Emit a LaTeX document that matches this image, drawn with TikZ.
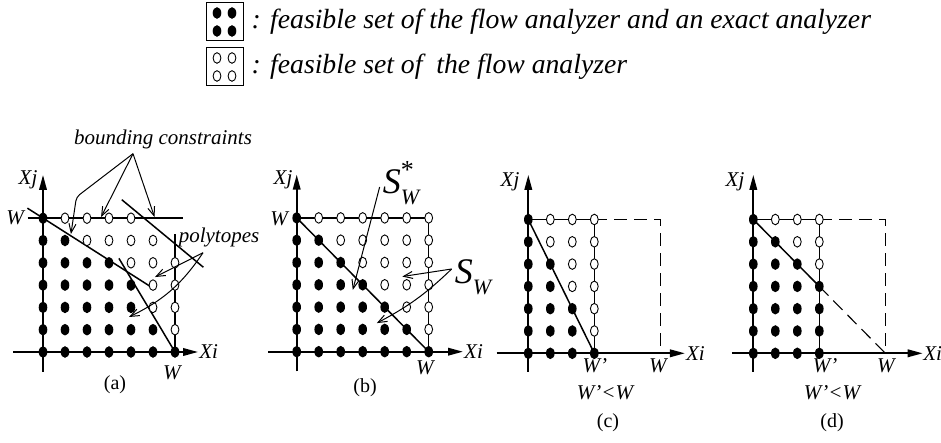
\documentclass[tikz,border=0pt]{standalone}
\usepackage{fontspec}
\setmainfont{Liberation Serif}
\usetikzlibrary{arrows.meta,positioning}

\begin{document}
\begin{tikzpicture}[x=1pt,y=1pt,
fdot/.style={fill=black},
odot/.style={draw=black,fill=white,line width=0.9pt},
axis/.style={-{Triangle[length=15pt,width=7.5pt]},line width=1.9pt},
bound/.style={line width=1.5pt},
hull/.style={line width=1.5pt},
gap/.style={line width=1.1pt,dash pattern=on 13pt off 7pt},
pointer/.style={-{Straight Barb[length=9pt,width=7pt]},line width=1pt},
tag/.style={font=\fontsize{21}{24}\selectfont\itshape,inner sep=1pt},
caption/.style={font=\fontsize{20}{23}\selectfont,inner sep=1pt},
setname/.style={font=\fontsize{36}{40}\selectfont\itshape,inner sep=1pt},
keybox/.style={draw,line width=1pt,minimum width=37pt,minimum height=38pt,inner sep=0pt},
keytext/.style={font=\fontsize{27.7}{32}\selectfont\itshape,inner sep=0pt}]
\useasboundingbox (0,0) rectangle (941,443);
% legend
\node[keybox] (keyboth) at (224.5,421) {};
\node[keytext,right=8pt of keyboth] (keybothtext) {: feasible set of the flow analyzer and an exact analyzer};
\node[keybox] (keyflow) at (224.5,376) {};
\node[keytext,right=8pt of keyflow] (keyflowtext) {: feasible set of\ \ the flow analyzer};
\foreach \dx in {-7.5,7.5} \foreach \dy in {-9,9} {
  \path[fdot] ([shift={(\dx,\dy)}]keyboth.center) ellipse (4.3pt and 5.8pt);
  \path[odot] ([shift={(\dx,\dy)}]keyflow.center) ellipse (3.9pt and 5.3pt);}
% (a)
\begin{scope}[shift={(43,91)},x=22pt,y=22.3pt]
\draw[axis] (-1.36,0) -- (7.05,0);
\draw[axis] (0,-0.88) -- (0,7.94);
\node[tag,right] (xia) at (7.05,0) {Xi};
\node[tag] (xja) at (-0.68,7.71) {Xj};
\node[tag] (wla) at (-1.27,6.02) {W};
\node[tag] (wba) at (5.86,-0.94) {W};
\draw[bound] (-0.7,6) -- (6.38,6);
\draw[bound] (6,5.27) -- (6,0);
\draw[bound] (3.58,6.83) -- (7.29,3.8);
\draw[hull] (-0.71,6.45) -- (4.86,2.95);
\draw[hull] (3.45,4.2) -- (6,0);
\foreach \j/\n in {6/0,5/1,4/3,3/4,2/4,1/5,0/6}
  \foreach \i in {0,...,\n} \path[fdot] (\i,\j) ellipse (4.3pt and 5.8pt);
\foreach \j/\a/\b in {6/1/4,5/2/5,4/4/6,3/5/6,2/5/6,1/6/6}
  \foreach \i in {\a,...,\b} \path[odot] (\i,\j) ellipse (3.9pt and 5.3pt);
\coordinate (bendA) at (1.52,6.95);
\coordinate (tipA1) at (1.27,5.29);
\coordinate (tipA2) at (2.64,6.05);
\coordinate (tipA3) at (5.07,6.05);
\coordinate (tipP1) at (5.09,3.36);
\coordinate (tipP2) at (3.91,1.57);
\end{scope}
\node[tag] (bounding) at (163,304) {bounding constraints};
\node[tag] (polytopes) at (219,206) {polytopes};
\draw[pointer,rounded corners=4pt] ([xshift=-30pt,yshift=-4pt]bounding.south) -- (bendA) -- (tipA1);
\draw[pointer] ([xshift=-30pt,yshift=-4pt]bounding.south) -- (tipA2);
\draw[pointer] ([xshift=-30pt,yshift=-4pt]bounding.south) -- (tipA3);
\draw[pointer] ([xshift=-16pt,yshift=-5pt]polytopes.south) -- (tipP1);
\draw[pointer] ([xshift=-16pt,yshift=-5pt]polytopes.south) to[bend left=15] (tipP2);
\node[caption] (capa) at (115,58) {(a)};
% (b)
\begin{scope}[shift={(296.7,91.3)},x=22pt,y=22.3pt]
\draw[axis] (-1.3,0) -- (7.56,0);
\draw[axis] (0,-0.88) -- (0,7.94);
\node[tag,right] (xib) at (7.56,0) {Xi};
\node[tag] (xjb) at (-0.62,7.7) {Xj};
\node[tag] (wlb) at (-0.8,5.95) {W};
\node[tag] (wbb) at (5.83,-0.73) {W};
\draw[bound] (0,6) -- (6,6) -- (6,0);
\draw[hull] (0,6) -- (6,0);
\foreach \i in {0,...,6} \foreach \j in {0,...,6} {
  \ifnum\numexpr\i+\j\relax>6 \path[odot] (\i,\j) ellipse (3.9pt and 5.3pt);
  \else \path[fdot] (\i,\j) ellipse (4.3pt and 5.8pt); \fi}
\coordinate (tipS1) at (2.55,2.77);
\coordinate (tipS2) at (4.8,3.37);
\coordinate (tipS3) at (3.64,1.28);
\end{scope}
\node[setname] (sstar) at (401,260) {S\rlap{\raisebox{0.42em}{\fontsize{26}{26}\selectfont\upshape *}}\raisebox{-0.3em}{\fontsize{22}{24}\selectfont W}};
\node[setname] (sflow) at (473,166) {S\raisebox{-0.3em}{\fontsize{22}{24}\selectfont W}};
\draw[pointer] ([shift={(-2pt,-4pt)}]sstar.west) -- (tipS1);
\draw[pointer] ([shift={(-2pt,8pt)}]sflow.west) -- (tipS2);
\draw[pointer] ([shift={(-2pt,8pt)}]sflow.west) to[bend left=8] (tipS3);
\node[caption] (capb) at (365,55) {(b)};
% (c)
\begin{scope}[shift={(528.3,89.7)},x=22pt,y=22.3pt]
\draw[axis] (-1.44,0) -- (7.12,0);
\draw[axis] (0,-0.83) -- (0,8);
\node[tag,right] (xic) at (7.12,0) {Xi};
\node[tag] (xjc) at (-0.83,7.68) {Xj};
\node[tag] (wpc) at (3.03,-0.55) {W'};
\node[tag] (wbc) at (5.89,-0.55) {W};
\draw[gap] (3,6) -- (6,6) -- (6,0);
\draw[bound] (0,6) -- (3,6) -- (3,0);
\draw[hull] (0,6) -- (3,0);
\foreach \i in {0,...,3} \foreach \j in {0,...,6} {
  \ifnum\numexpr2*\i+\j\relax>6 \path[odot] (\i,\j) ellipse (3.9pt and 5.3pt);
  \else \path[fdot] (\i,\j) ellipse (4.3pt and 5.8pt); \fi}
\end{scope}
\node[tag] (lessc) at (605,50) {W'<W};
\node[caption] (capc) at (608,20) {(c)};
% (d)
\begin{scope}[shift={(753.3,89.7)},x=22pt,y=22.3pt]
\draw[axis] (-0.98,0) -- (7.7,0);
\draw[axis] (0,-0.83) -- (0,8);
\node[tag,right,inner sep=0pt] (xid) at (7.72,0) {Xi};
\node[tag] (xjd) at (-0.83,7.7) {Xj};
\node[tag] (wpd) at (3.26,-0.55) {W'};
\node[tag] (wbd) at (6.02,-0.55) {W};
\draw[gap] (3,6) -- (6,6) -- (6,0);
\draw[bound] (0,6) -- (3,6) -- (3,0);
\draw[hull] (0,6) -- (3,3);
\draw[hull,gap] (3,3) -- (6,0);
\foreach \i in {0,...,3} \foreach \j in {0,...,6} {
  \ifnum\numexpr\i+\j\relax>6 \path[odot] (\i,\j) ellipse (3.9pt and 5.3pt);
  \else \path[fdot] (\i,\j) ellipse (4.3pt and 5.8pt); \fi}
\end{scope}
\node[tag] (lessd) at (832,50) {W'<W};
\node[caption] (capd) at (832,20) {(d)};
\end{tikzpicture}
\end{document}
